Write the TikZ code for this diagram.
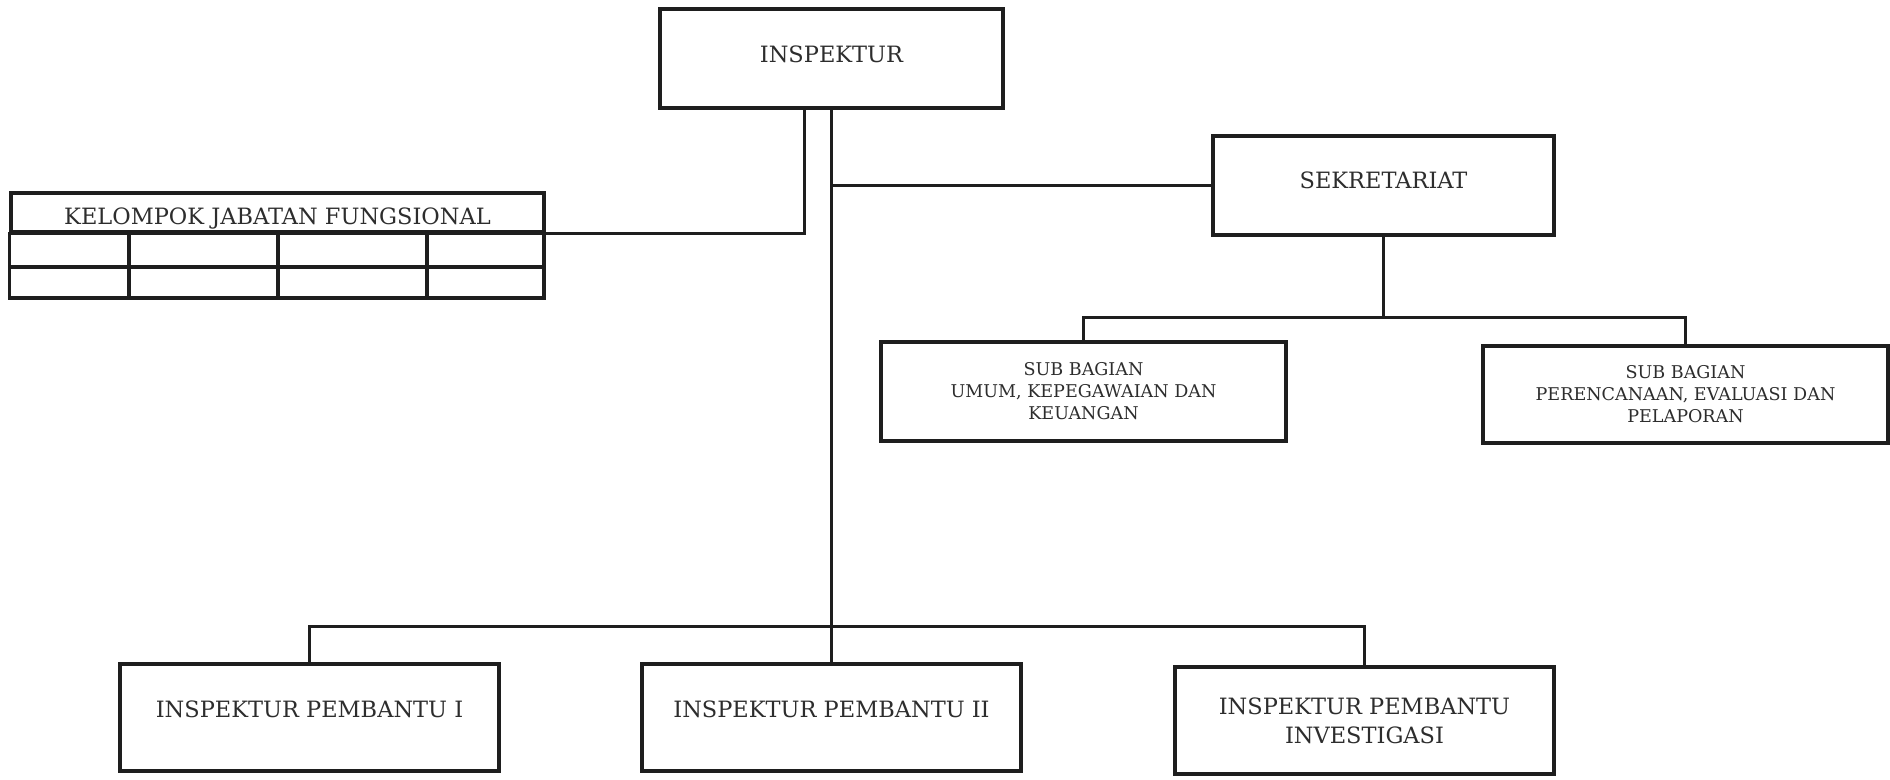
\documentclass[tikz,border=0pt]{standalone}
\usepackage{fontspec}
\setmainfont{DejaVu Serif}

\begin{document}
\begin{tikzpicture}[x=0.02cm, y=-0.02cm,
    unitbox/.style={draw=linecolor, line width=2.2pt, text=textcolor, inner sep=0pt, align=center},
    link/.style={draw=linecolor, line width=1.7pt},
    grid/.style={draw=linecolor, line width=1.8pt},
    mainfont/.style={font=\fontsize{12.8}{16.5}\selectfont},
    subfont/.style={font=\fontsize{10}{12.5}\selectfont}]
% Define colors
\definecolor{linecolor}{RGB}{30, 30, 30}
\definecolor{textcolor}{RGB}{45, 45, 45}

\useasboundingbox (0,0) rectangle (1890,779);

% Inspektur
\node[unitbox, mainfont, minimum width=6.86cm, minimum height=1.98cm, text height=9pt, text depth=5pt] (insp) at (831.5,58.5) {INSPEKTUR};

% Sekretariat
\node[unitbox, mainfont, minimum width=6.82cm, minimum height=1.98cm, text height=9pt, text depth=6pt] (sek) at (1383.5,185.5) {SEKRETARIAT};

% Sub bagian
\node[unitbox, subfont, minimum width=8.1cm, minimum height=1.98cm] (subum) at (1083.5,391.5) {SUB BAGIAN\\UMUM, KEPEGAWAIAN DAN\\KEUANGAN};
\node[unitbox, subfont, minimum width=8.1cm, minimum height=1.94cm] (subren) at (1685.5,394.5) {SUB BAGIAN\\PERENCANAAN, EVALUASI DAN\\PELAPORAN};

% Inspektur pembantu
\node[unitbox, mainfont, minimum width=7.58cm, minimum height=2.14cm, text height=9pt, text depth=9pt] (ip1) at (309.5,717.5) {INSPEKTUR PEMBANTU I};
\node[unitbox, mainfont, minimum width=7.58cm, minimum height=2.14cm, text height=9pt, text depth=9pt] (ip2) at (831.5,717.5) {INSPEKTUR PEMBANTU II};
\node[unitbox, mainfont, minimum width=7.58cm, minimum height=2.14cm] (ip3) at (1364.5,720.5) {INSPEKTUR PEMBANTU\\INVESTIGASI};

% Kelompok jabatan fungsional
\node[unitbox, mainfont, line width=1.8pt, minimum width=10.66cm, minimum height=0.78cm, text height=18pt, text depth=4pt] (kjf) at (277.5,212.5) {KELOMPOK JABATAN FUNGSIONAL};
\draw[grid] (kjf.south west) rectangle (544,298);
\draw[grid] (11,267) -- (544,267);
\foreach \x in {129, 278, 427} {
    \draw[grid] (\x,232) -- (\x,298);
}

% Connectors
\coordinate (sekbar) at (1383.5,317);
\coordinate (pbar) at (831.5,626);
\draw[link] (insp.south) -- (ip2.north);
\draw[link] ([xshift=-0.54cm]insp.south) |- (kjf.south east);
\draw[link] (sek.west) -- (sek.west -| insp.south);
\draw[link] (sek.south) -- (sekbar);
\draw[link] (subum.north) |- (sekbar) -| (subren.north);
\draw[link] (ip1.north) |- (pbar) -| (ip3.north);
\end{tikzpicture}
\end{document}
